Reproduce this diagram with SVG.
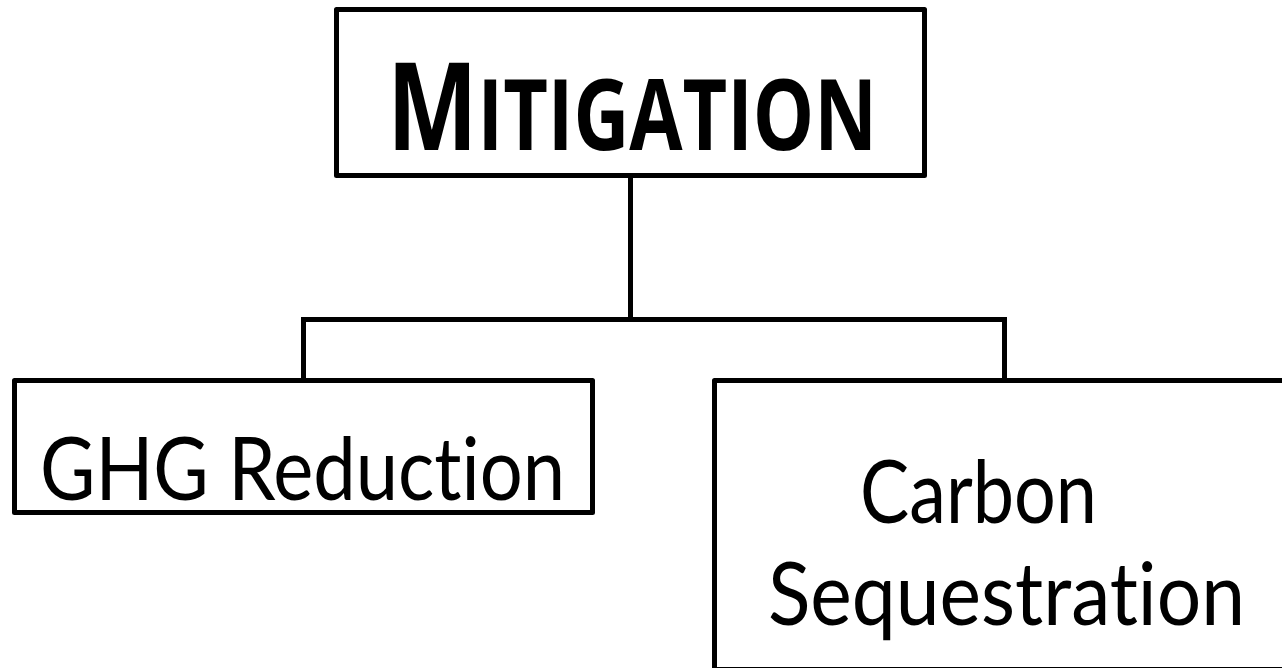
<svg xmlns="http://www.w3.org/2000/svg" width="1282" height="668" viewBox="0 0 1282 668">
<style>
.box{fill:#fff;stroke:#000;stroke-width:5;stroke-linejoin:round}
.conn{fill:none;stroke:#000;stroke-width:5;stroke-linejoin:miter}
.lbl{font-family:Lato,"Open Sans","Liberation Sans",sans-serif;fill:#000;font-variant-ligatures:none}
.title{font-family:"Open Sans","Noto Sans","Liberation Sans",sans-serif;font-weight:700}
</style>
<rect width="1282" height="668" fill="#fff"/>
<g id="connectors">
<path class="conn" d="M630.5 175.5V319.5M303.5 380.5V319.5H1004.5V380.5"/>
</g>
<g id="mitigation">
<rect class="box" x="336.5" y="9.5" width="588" height="166"/>
<text class="lbl title" x="387" y="150" textLength="490" lengthAdjust="spacingAndGlyphs"><tspan font-size="122">M</tspan><tspan font-size="98">ITIGATION</tspan></text>
</g>
<g id="ghg">
<rect class="box" x="14.5" y="380.5" width="578" height="132"/>
<text class="lbl" x="40" y="500" font-size="88" textLength="525" lengthAdjust="spacingAndGlyphs">GHG Reduction</text>
</g>
<g id="carbon">
<rect class="box" x="714.5" y="380.5" width="580" height="289"/>
<text class="lbl" x="860" y="523" font-size="88" textLength="237" lengthAdjust="spacingAndGlyphs">Carbon</text>
<text class="lbl" x="768" y="625" font-size="88" textLength="477" lengthAdjust="spacingAndGlyphs">Sequestration</text>
</g>
</svg>
